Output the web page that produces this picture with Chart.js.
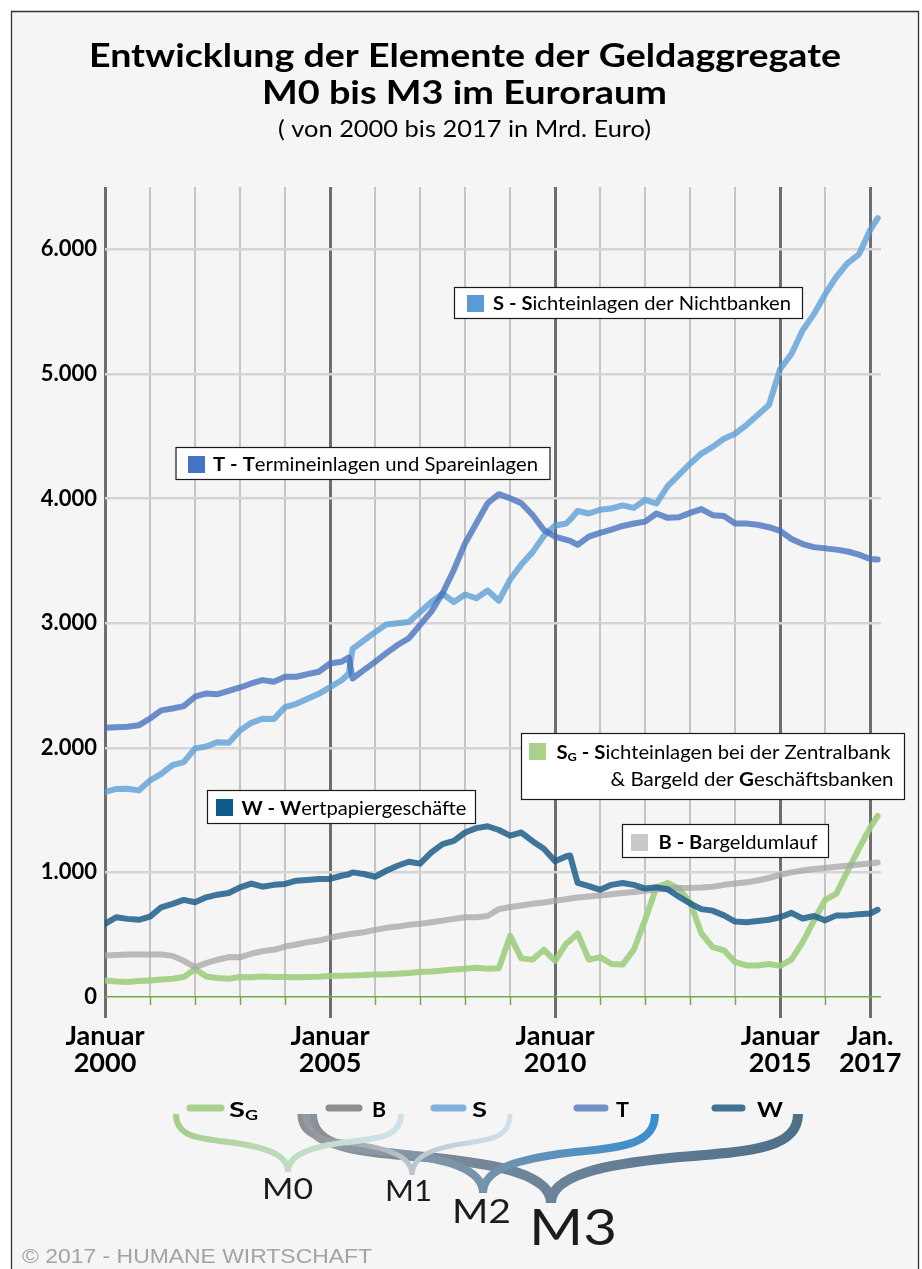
<!DOCTYPE html>
<html lang="de">
<head>
<meta charset="utf-8">
<title>Entwicklung der Elemente der Geldaggregate M0 bis M3 im Euroraum</title>
<script src="https://cdn.jsdelivr.net/npm/chart.js@4.4.1/dist/chart.umd.min.js"></script>
<style>
  html, body { margin: 0; padding: 0; background: #ffffff; }
  #wrap { width: 922px; height: 1269px; }
</style>
</head>
<body>
<div id="wrap"><canvas id="c" width="922" height="1269"></canvas></div>
<script>
// ---------------- DATA (Mrd. Euro) ----------------
const dates = [
  '2000-01','2000-04','2000-07','2000-10',
  '2001-01','2001-04','2001-07','2001-10',
  '2002-01','2002-04','2002-07','2002-10',
  '2003-01','2003-04','2003-07','2003-10',
  '2004-01','2004-04','2004-07','2004-10',
  '2005-01','2005-04','2005-06','2005-07','2005-10',
  '2006-01','2006-04','2006-07','2006-10',
  '2007-01','2007-04','2007-07','2007-10',
  '2008-01','2008-04','2008-07','2008-10',
  '2009-01','2009-04','2009-07','2009-10',
  '2010-01','2010-04','2010-05','2010-07','2010-10',
  '2011-01','2011-04','2011-07','2011-10',
  '2012-01','2012-04','2012-07','2012-10',
  '2013-01','2013-04','2013-07','2013-10',
  '2014-01','2014-04','2014-07','2014-10',
  '2015-01','2015-04','2015-07','2015-10',
  '2016-01','2016-04','2016-07','2016-10',
  '2017-01','2017-03'
];

// T - Termineinlagen und Spareinlagen
const seriesT = [
  2160, 2165, 2168, 2180,
  2235, 2300, 2315, 2334,
  2410, 2436, 2430, 2457,
  2484, 2516, 2543, 2530,
  2570, 2570, 2591, 2610,
  2676, 2690, 2725, 2556, 2623,
  2690, 2760, 2825, 2879,
  2986, 3093, 3240, 3427,
  3641, 3802, 3962, 4035,
  4002, 3962, 3868, 3748,
  3694, 3668, 3660, 3628, 3694,
  3725, 3750, 3780, 3800,
  3815, 3880, 3845, 3850,
  3885, 3915, 3866, 3860,
  3800, 3799, 3790, 3770,
  3740, 3675, 3635, 3610,
  3600, 3590, 3575, 3550,
  3515, 3510
];

// S - Sichteinlagen der Nichtbanken
const seriesS = [
  1644, 1670, 1671, 1658,
  1738, 1791, 1860, 1885,
  1995, 2010, 2045, 2040,
  2139, 2200, 2233, 2230,
  2326, 2353, 2393, 2433,
  2487, 2540, 2594, 2794, 2861,
  2928, 2990, 3000, 3010,
  3090, 3170, 3236, 3170,
  3230, 3200, 3262, 3180,
  3350, 3470, 3570, 3700,
  3784, 3800, 3830, 3900, 3880,
  3910, 3920, 3945, 3925,
  3990, 3960, 4100, 4190,
  4280, 4361, 4415, 4480,
  4520, 4590, 4670, 4750,
  5040, 5160, 5350, 5480,
  5640, 5780, 5890, 5960,
  6155, 6250
];

// W - Wertpapiergeschäfte
const seriesW = [
  587, 640, 627, 619,
  645, 720, 747, 779,
  760, 800, 821, 835,
  880, 910, 885, 900,
  907, 933, 939, 947,
  947, 973, 985, 1000, 987,
  965, 1013, 1053, 1085,
  1070, 1160, 1227, 1253,
  1320, 1355, 1370, 1340,
  1295, 1320, 1250, 1190,
  1090, 1130, 1135, 915, 890,
  860, 900, 915, 900,
  870, 880, 865, 805,
  750, 705, 693, 655,
  605, 600, 610, 620,
  640, 675, 630, 650,
  615, 655, 655, 665,
  670, 700
];

// B - Bargeldumlauf
const seriesB = [
  333, 338, 341, 341,
  341, 341, 330, 290,
  240, 272, 299, 320,
  318, 347, 368, 379,
  405, 421, 440, 453,
  475, 493, 503, 507, 520,
  539, 555, 565, 579,
  587, 600, 613, 627,
  640, 640, 650, 705,
  722, 735, 748, 758,
  772, 785, 790, 798, 806,
  815, 825, 834, 843,
  852, 862, 869, 875,
  875, 878, 885, 900,
  910, 920, 935, 955,
  981, 1000, 1015, 1027,
  1036, 1045, 1053, 1063,
  1072, 1080
];

// SG - Sichteinlagen bei der Zentralbank & Bargeld der Geschäftsbanken
const seriesSG = [
  133, 125, 120, 128,
  133, 140, 147, 160,
  225, 165, 152, 147,
  160, 158, 165, 160,
  160, 158, 160, 162,
  168, 170, 172, 173, 176,
  181, 183, 187, 192,
  200, 205, 213, 220,
  227, 235, 227, 230,
  490, 310, 300, 380,
  290, 430, 453, 510, 300,
  320, 265, 260, 380,
  620, 880, 915, 870,
  760, 510, 400, 375,
  280, 253, 253, 265,
  250, 300, 440, 613,
  780, 830, 1013, 1190,
  1360, 1453
];

const xTickYears = [2000, 2001, 2002, 2003, 2004, 2005, 2006, 2007, 2008, 2009,
                    2010, 2011, 2012, 2013, 2014, 2015, 2016, 2017];
const xTickLabels = {
  2000: ['Januar', '2000'],
  2005: ['Januar', '2005'],
  2010: ['Januar', '2010'],
  2015: ['Januar', '2015'],
  2017: ['Jan.', '2017']
};
const yTickValues = [0, 1000, 2000, 3000, 4000, 5000, 6000];
const majorYears = [2000, 2005, 2010, 2015, 2017];

// ---------------- helpers ----------------
const decYear = d => +d.slice(0, 4) + (+d.slice(5, 7) - 1) / 12;
const toPoints = arr => arr.map((v, i) => ({ x: decYear(dates[i]), y: v }));

function richText(ctx, runs, x, y, targetW, align) {
  let total = 0;
  runs.forEach(r => { ctx.font = r.f; r.w = ctx.measureText(r.t).width; total += r.w; });
  const sx = targetW ? targetW / total : 1;
  const W = total * sx;
  const x0 = align === 'center' ? x - W / 2 : (align === 'right' ? x - W : x);
  ctx.save();
  ctx.textAlign = 'left';
  ctx.textBaseline = 'alphabetic';
  ctx.translate(x0, y);
  ctx.scale(sx, 1);
  let cx = 0;
  runs.forEach(r => {
    ctx.font = r.f;
    ctx.fillStyle = r.c || '#000';
    ctx.fillText(r.t, cx, r.dy || 0);
    cx += r.w;
  });
  ctx.restore();
}

function braceShape(ctx, xl, xt, xr, yTop, yTip) {
  const yMid = yTop + (yTip - yTop) * 0.42;
  const dl = xt - xl, dr = xt - xr;
  const mlx = xl + dl * 0.5, mrx = xr + dr * 0.5;
  const mY = yMid + (yTip - yMid) * 0.12;
  ctx.beginPath();
  ctx.moveTo(xl, yTop);
  ctx.bezierCurveTo(xl, yTop + (yMid - yTop) * 0.95, xl + dl * 0.2, yMid, mlx, mY);
  ctx.bezierCurveTo(xl + dl * 0.78, mY + (yTip - mY) * 0.15, xt, yTip - (yTip - yMid) * 0.55, xt, yTip);
  ctx.bezierCurveTo(xt, yTip - (yTip - yMid) * 0.55, xr + dr * 0.78, mY + (yTip - mY) * 0.15, mrx, mY);
  ctx.bezierCurveTo(xr + dr * 0.2, yMid, xr, yTop + (yMid - yTop) * 0.95, xr, yTop);
}

// ---------------- decoration plugin ----------------
const deco = {
  id: 'deco',
  beforeDraw(chart) {
    const ctx = chart.ctx;
    ctx.save();
    ctx.fillStyle = '#ffffff';
    ctx.fillRect(0, 0, 922, 1269);
    ctx.fillStyle = '#f5f5f5';
    ctx.fillRect(11, 11, 908, 1260);
    ctx.strokeStyle = '#333333';
    ctx.lineWidth = 1.3;
    ctx.beginPath();
    ctx.moveTo(11.5, 1270); ctx.lineTo(11.5, 11.5); ctx.lineTo(918.5, 11.5); ctx.lineTo(918.5, 1270);
    ctx.stroke();
    ctx.restore();
  },
  afterDatasetsDraw(chart) {
    const ctx = chart.ctx;
    const boxes = [
      { x: 454, y: 287, w: 348, h: 31, sq: [467, 295], col: '#5b9bd5' },
      { x: 175.5, y: 447, w: 374, h: 32, sq: [188, 456], col: '#4472c4' },
      { x: 207, y: 790, w: 268, h: 33, sq: [216, 799], col: '#0f5a8c' },
      { x: 521, y: 733, w: 383, h: 66, sq: [529, 743], col: '#a9d18e' },
      { x: 622, y: 824, w: 206, h: 33, sq: [631, 834], col: '#c9c9c9' }
    ];
    ctx.save();
    boxes.forEach(b => {
      ctx.fillStyle = '#ffffff';
      ctx.fillRect(b.x, b.y, b.w, b.h);
      ctx.strokeStyle = '#1a1a1a';
      ctx.lineWidth = 1.2;
      ctx.strokeRect(b.x + 0.5, b.y + 0.5, b.w, b.h);
      ctx.fillStyle = b.col;
      ctx.fillRect(b.sq[0], b.sq[1], 17, 17);
    });
    ctx.restore();
    const B = 'bold 19px Lato', R = '19px Lato';
    richText(ctx, [{ t: 'S - S', f: B }, { t: 'ichteinlagen der Nichtbanken', f: R }], 493, 309.5, 298, 'left');
    richText(ctx, [{ t: 'T - T', f: B }, { t: 'ermineinlagen und Spareinlagen', f: R }], 213, 471, 325, 'left');
    richText(ctx, [{ t: 'W - W', f: B }, { t: 'ertpapiergeschäfte', f: R }], 241.5, 815, 225, 'left');
    richText(ctx, [{ t: 'S', f: B }, { t: 'G', f: 'bold 12px Lato', dy: 2 }, { t: ' - S', f: B },
                   { t: 'ichteinlagen bei der Zentralbank', f: R }], 556.5, 758.5, 334, 'left');
    richText(ctx, [{ t: '& Bargeld der ', f: R }, { t: 'G', f: B }, { t: 'eschäftsbanken', f: R }], 893.5, 786, 283, 'right');
    richText(ctx, [{ t: 'B - B', f: B }, { t: 'argeldumlauf', f: R }], 658.5, 848.5, 159, 'left');
  },
  afterDraw(chart) {
    const ctx = chart.ctx;
    const xs = chart.scales.x, area = chart.chartArea;
    // short green year ticks under the zero line
    ctx.save();
    ctx.strokeStyle = '#70ad47';
    ctx.lineWidth = 1.5;
    xTickYears.forEach(yr => {
      if (majorYears.includes(yr)) return;
      const px = Math.round(xs.getPixelForValue(yr)) + 0.5;
      ctx.beginPath(); ctx.moveTo(px, area.bottom); ctx.lineTo(px, area.bottom + 8); ctx.stroke();
    });
    ctx.restore();

    // Title
    richText(ctx, [{ t: 'Entwicklung der Elemente der Geldaggregate', f: 'bold 33px Lato' }], 465, 67, 752, 'center');
    richText(ctx, [{ t: 'M0 bis M3 im Euroraum', f: 'bold 33px Lato' }], 464.5, 103.5, 405, 'center');
    richText(ctx, [{ t: '( von 2000 bis 2017 in Mrd. Euro)', f: '23px Lato' }], 464.5, 137, 373, 'center');

    // Bottom composition diagram
    ctx.save();
    ctx.lineCap = 'round';
    ctx.lineWidth = 7;
    const keys = [
      { x1: 190, x2: 221, c: '#a9d18e' },
      { x1: 329, x2: 359, c: '#8f8f8f' },
      { x1: 434, x2: 463, c: '#7fb0dc' },
      { x1: 577, x2: 605, c: '#7190c8' },
      { x1: 715, x2: 742, c: '#3f7192' }
    ];
    keys.forEach(k => {
      ctx.strokeStyle = k.c;
      ctx.beginPath(); ctx.moveTo(k.x1, 1108); ctx.lineTo(k.x2, 1108); ctx.stroke();
    });
    ctx.restore();
    const KB = 'bold 21px Lato';
    richText(ctx, [{ t: 'S', f: KB }, { t: 'G', f: 'bold 13px Lato', dy: 3 }], 229, 1117, 29, 'left');
    richText(ctx, [{ t: 'B', f: KB }], 372, 1117, 14, 'left');
    richText(ctx, [{ t: 'S', f: KB }], 472, 1117, 15, 'left');
    richText(ctx, [{ t: 'T', f: KB }], 616, 1117, 13, 'left');
    richText(ctx, [{ t: 'W', f: KB }], 757, 1117, 26, 'left');

    const braces = [
      { xl: 312, xt: 551, xr: 798, yTip: 1203, w: 10, stops: [[0, '#8a9097'], [0.5, '#6a8399'], [1, '#4f7089']] },
      { xl: 306, xt: 483, xr: 655, yTip: 1193, w: 8, stops: [[0, '#939ba3'], [0.45, '#7b93a8'], [1, '#3a8fd1']] },
      { xl: 300, xt: 412, xr: 510, yTip: 1175, w: 5, stops: [[0, '#8e8e8e'], [0.5, '#b9c3ca'], [1, '#cfe1eb']] },
      { xl: 176, xt: 288, xr: 401, yTip: 1172, w: 6, stops: [[0, '#a5cf8a'], [0.5, '#bfdcc0'], [1, '#cfe2ec']] }
    ];
    braces.forEach(b => {
      ctx.save();
      const g = ctx.createLinearGradient(b.xl, 0, b.xr, 0);
      b.stops.forEach(s => g.addColorStop(s[0], s[1]));
      ctx.strokeStyle = g;
      ctx.lineWidth = b.w;
      ctx.lineJoin = 'miter';
      ctx.miterLimit = 10;
      ctx.lineCap = 'butt';
      braceShape(ctx, b.xl, b.xt, b.xr, 1114, b.yTip);
      ctx.stroke();
      ctx.restore();
    });
    const MC = '#1c1c1c';
    richText(ctx, [{ t: 'M0', f: '29px Lato', c: MC }], 262, 1199, 51, 'left');
    richText(ctx, [{ t: 'M1', f: '29px Lato', c: MC }], 385, 1201, 47, 'left');
    richText(ctx, [{ t: 'M2', f: '33px Lato', c: MC }], 452, 1223, 59, 'left');
    richText(ctx, [{ t: 'M3', f: '51px Lato', c: MC }], 529, 1245, 88, 'left');

    // Copyright
    richText(ctx, [{ t: '© 2017 - HUMANE WIRTSCHAFT', f: '21px "Liberation Sans"', c: '#a3a3a3' }], 22, 1263, 350, 'left');
  }
};

// ---------------- chart ----------------
const lineDs = (label, arr, color) => ({
  label, data: toPoints(arr), borderColor: color, backgroundColor: color,
  borderWidth: 6, pointRadius: 0, pointHoverRadius: 0, tension: 0,
  borderJoinStyle: 'round', borderCapStyle: 'round', fill: false
});

new Chart(document.getElementById('c'), {
  type: 'line',
  data: {
    datasets: [
      lineDs('W - Wertpapiergeschäfte', seriesW, 'rgba(30,94,138,0.85)'),
      lineDs('T - Termineinlagen und Spareinlagen', seriesT, 'rgba(68,112,190,0.78)'),
      lineDs('S - Sichteinlagen der Nichtbanken', seriesS, 'rgba(91,157,214,0.78)'),
      lineDs('B - Bargeldumlauf', seriesB, 'rgba(165,165,165,0.75)'),
      lineDs('SG - Sichteinlagen bei der Zentralbank & Bargeld der Geschäftsbanken', seriesSG, 'rgba(160,205,128,0.9)')
    ]
  },
  options: {
    responsive: false,
    animation: false,
    devicePixelRatio: 1,
    layout: { padding: { top: 187, right: 41, bottom: 182, left: 0 } },
    plugins: { legend: { display: false }, tooltip: { enabled: false }, title: { display: false } },
    scales: {
      x: {
        type: 'linear',
        min: 2000,
        max: 2017.24,
        afterBuildTicks: s => { s.ticks = xTickYears.map(v => ({ value: v })); },
        afterFit: s => { s.height = 90; },
        border: { display: false },
        grid: {
          color: c => (c.tick && majorYears.includes(c.tick.value)) ? '#6e6e6e' : '#c4c4c4',
          lineWidth: c => (c.tick && majorYears.includes(c.tick.value)) ? 3 : 2,
          drawTicks: true,
          tickLength: 21,
          tickColor: c => (c.tick && majorYears.includes(c.tick.value)) ? '#6e6e6e' : 'rgba(0,0,0,0)',
          tickWidth: 3
        },
        ticks: {
          autoSkip: false,
          maxRotation: 0,
          padding: 5,
          color: '#000',
          font: { family: 'Lato', weight: 'bold', size: 27, lineHeight: 1.0 },
          callback: v => xTickLabels[v] || ''
        }
      },
      y: {
        min: 0,
        max: 6500,
        afterBuildTicks: s => { s.ticks = yTickValues.map(v => ({ value: v })); },
        afterFit: s => { s.width = 105; },
        border: { display: false },
        grid: {
          color: c => (c.tick && c.tick.value === 0) ? '#70ad47' : '#d5d5d5',
          lineWidth: c => (c.tick && c.tick.value === 0) ? 1.5 : 2.5,
          drawTicks: false
        },
        ticks: {
          padding: 8,
          color: '#000',
          font: { family: 'Lato', weight: 'bold', size: 22 },
          callback: v => v.toLocaleString('de-DE')
        }
      }
    }
  },
  plugins: [deco]
});
</script>
</body>
</html>
